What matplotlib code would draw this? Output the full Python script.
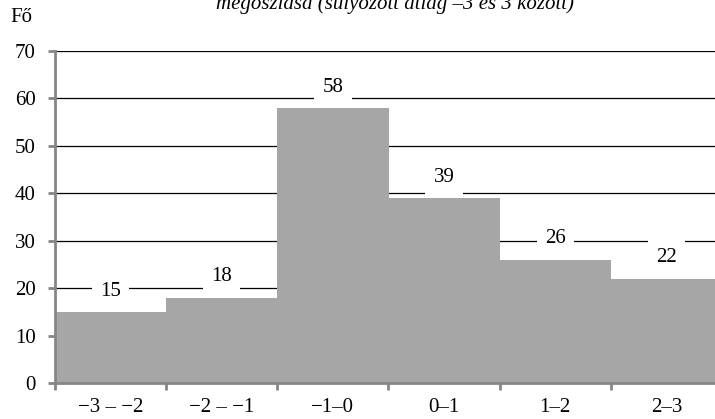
import matplotlib
matplotlib.use("Agg")
import matplotlib.pyplot as plt
import numpy as np

categories = ["\u22123 \u2013 \u22122", "\u22122 \u2013 \u22121", "\u22121\u20130", "0\u20131", "1\u20132", "2\u20133"]
values = [15, 18, 58, 39, 26, 22]
yticks = [0, 10, 20, 30, 40, 50, 60, 70]

plt.rcParams['font.family'] = ['Liberation Serif', 'DejaVu Serif']
FS = 15
plt.rcParams['font.size'] = FS

W, H = 715, 419
fig = plt.figure(figsize=(W/100, H/100), dpi=100)
left, right, bottom, top = 55, 722, 383, 51
ax = fig.add_axes([left/W, 1 - bottom/H, (right-left)/W, (bottom-top)/H])

x = np.arange(len(categories))
ax.bar(x, values, width=1.0, color='#A6A6A6', zorder=2)
ax.set_xlim(-0.5, len(categories) - 0.5)
ax.set_ylim(0, 70)
ax.set_yticks(yticks)
ax.yaxis.grid(True, color='black', linewidth=0.9, zorder=1)
ax.set_axisbelow(True)

for xi, v in zip(x, values):
    ax.annotate(str(v), (xi, v), xytext=(0, 15), textcoords='offset points',
                ha='center', va='center', fontsize=FS,
                bbox=dict(boxstyle='square,pad=0.4', fc='white', ec='none'), zorder=3)

for s in ['top', 'right']:
    ax.spines[s].set_visible(False)
for s in ['left', 'bottom']:
    ax.spines[s].set_color('#868686')
    ax.spines[s].set_linewidth(2)

ax.set_xticks(np.arange(len(categories) + 1) - 0.5, minor=True)
ax.set_xticks(x)
ax.set_xticklabels(categories)
ax.tick_params(axis='x', which='major', length=0, pad=11)
ax.tick_params(axis='x', which='minor', length=5, width=2, color='#868686')
ax.tick_params(axis='y', length=5, width=2, color='#868686', pad=9)

fig.text(10/W, 1 - 18/H, "F\u0151", ha='left', va='center', fontsize=FS)
fig.text(395/W, 1 - 9/H, "megoszl\u00e1sa (s\u00falyozott \u00e1tlag \u20133 \u00e9s 3 k\u00f6z\u00f6tt)",
         ha='center', va='baseline', fontsize=FS, style='italic')

fig.savefig("out.png", dpi=100)
